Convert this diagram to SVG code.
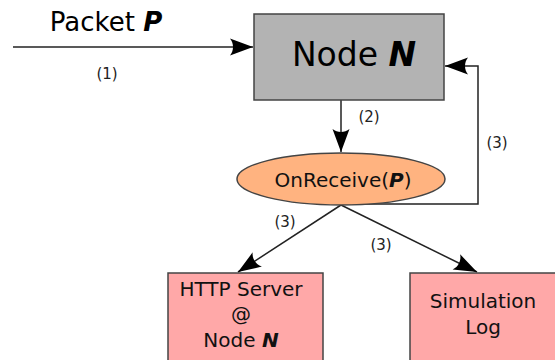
<svg xmlns="http://www.w3.org/2000/svg" width="555" height="360" viewBox="0 0 555 360">
<style>
text{font-family:"DejaVu Sans",sans-serif;fill:#000;}
.lbl{font-size:15px;fill:#222;}
.conn{fill:none;stroke:#222;stroke-width:1.5;}
.box{stroke:#444;stroke-width:1.5;}
.pink{fill:#ffa8a8;}
.c{text-anchor:middle;}
.t{font-size:20px;fill:#111;}
</style>
<defs>
<marker id="ah" markerUnits="userSpaceOnUse" markerWidth="26" markerHeight="20" viewBox="-25 -10 26 20" refX="0" refY="0" orient="auto">
<path d="M0,0 L-23,-8.5 C-19,-3.6 -19,3.6 -23,8.5 Z" fill="#000"/>
</marker>
</defs>
<g id="connectors">
<path class="conn" d="M13,47 H253" marker-end="url(#ah)"/>
<path class="conn" d="M341,100 V152" marker-end="url(#ah)"/>
<path class="conn" d="M341,204 H478 V66 H445" marker-end="url(#ah)"/>
<path class="conn" d="M341,205 L238,272" marker-end="url(#ah)"/>
<path class="conn" d="M341,205 L477,272" marker-end="url(#ah)"/>
<text class="lbl" x="107" y="79" text-anchor="middle">(1)</text>
<text class="lbl" x="369" y="122" text-anchor="middle">(2)</text>
<text class="lbl" x="497" y="148" text-anchor="middle">(3)</text>
<text class="lbl" x="285" y="227" text-anchor="middle">(3)</text>
<text class="lbl" x="381" y="250" text-anchor="middle">(3)</text>
</g>
<g id="packet">
<text x="106" y="31" class="c" font-size="26">Packet <tspan font-weight="bold" font-style="italic">P</tspan></text>
</g>
<g id="node-n">
<rect class="box" x="254" y="14" width="190" height="86" fill="#b3b3b3"/>
<text x="354" y="66" class="c" font-size="33">Node <tspan font-weight="bold" font-style="italic">N</tspan></text>
</g>
<g id="onreceive">
<ellipse class="box" cx="341" cy="179" rx="104" ry="26" fill="#ffb380" stroke="#222"/>
<text x="343" y="187" class="c t">OnReceive(<tspan font-weight="bold" font-style="italic">P</tspan>)</text>
</g>
<g id="http-server">
<rect class="box pink" x="168" y="273" width="155" height="95"/>
<text x="241" y="296" class="c t">HTTP Server</text>
<text x="241" y="321" class="c t">@</text>
<text x="241" y="347" class="c t">Node <tspan font-weight="bold" font-style="italic">N</tspan></text>
</g>
<g id="simulation-log">
<rect class="box pink" x="410" y="273" width="155" height="95"/>
<text x="483" y="308" class="c t">Simulation</text>
<text x="483" y="334" class="c t">Log</text>
</g>
</svg>
